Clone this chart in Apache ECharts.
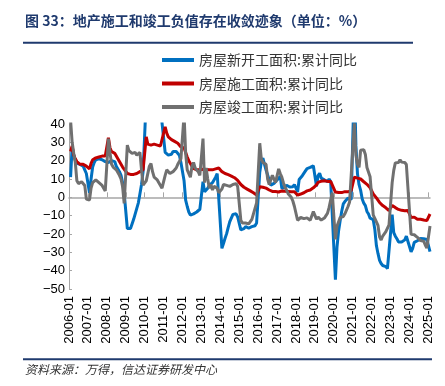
<!DOCTYPE html>
<html><head><meta charset="utf-8">
<script src="https://cdn.jsdelivr.net/npm/echarts@6/dist/echarts.min.js"></script>
<style>html,body{margin:0;padding:0;background:#fff}#c{width:445px;height:386px}</style>
</head><body><div id="c"></div>
<script>
// monthly categories 2006-01 .. 2025-02 (January values are not published -> null)
const categories = [];
for (let y = 2006; y <= 2025; y++) {
  for (let m = 1; m <= 12; m++) {
    if (y === 2025 && m > 2) break;
    categories.push(y + '-' + String(m).padStart(2, '0'));
  }
}
const yTicks = { min: -50, max: 40, step: 10 };
const seriesNames = ['房屋新开工面积:累计同比', '房屋施工面积:累计同比', '房屋竣工面积:累计同比'];

const newStarts = [
  null, 11, 27.5, 23, 20, 18.5, 18.5, 18, 17.5, 17, 15, 13,
  null, 2.5, 10, 16.5, 19, 20.5, 21, 21, 21, 20.5, 20, 19.5,
  null, 19, 19.5, 20, 19, 19.5, 17, 16, 14, 12, 8, 2.3,
  null, -17, -17.5, -17, -14.5, -12, -9, -6, -3, 2, 7, 14,
  null, 54, 60, 66, 67, 68, 71, 70, 65, 57, 50, 40.7,
  null, 24.5, 23.5, 23, 23.5, 23.5, 25, 26, 25, 24, 23, 19,
  null, 9, -1.5, -5, -8, -9.7, -9.5, -9, -8.5, -8, -7, -6.5,
  null, 8.5, 3, 4, 5, 6.5, 6.7, 8, 9.5, 11, 13, 13.5,
  null, -27.8, -25.2, -22.3, -19.8, -16.4, -13.3, -12.4, -9.3, -8.7, -9.0, -10.7,
  null, -17.7, -18.4, -17.1, -16.0, -15.8, -16.8, -17.4, -16, -15, -15.5, -14.0,
  null, 13.7, 19.2, 21.4, 18.0, 14.9, 12.2, 12.6, 6.6, 7.5, 7.6, 8.1,
  null, 10.4, 11.6, 4.9, 5.7, 5.5, 6.6, 7.2, 5.6, 5.6, 5.8, 7.0,
  null, 2.9, 9.7, 10.0, 11.8, 11.8, 14.4, 15.7, 16.4, 16.3, 16.8, 17.2,
  null, 6.0, 11.9, 13.1, 10.5, 10.1, 9.5, 8.9, 8.6, 10.0, 8.6, 8.5,
  null, -44.9, -27.2, -18.4, -12.8, -7.6, -3.6, -2.3, -1.4, -0.4, -0.7, -1.2,
  null, 64.3, 28.2, 12.8, 6.9, 3.8, -0.9, -3.2, -4.5, -7.7, -9.1, -11.4,
  null, -12.2, -17.5, -26.3, -30.6, -34.4, -36.1, -37.2, -38.0, -37.8, -38.9, -39.4,
  null, -9.4, -19.2, -21.2, -22.6, -24.3, -24.5, -24.4, -23.4, -23.2, -21.2, -20.4,
  null, -29.7, -27.8, -24.6, -24.2, -23.7, -23.2, -22.5, -22.2, -22.6, -23.0, -23.0,
  null, -29.6
];

const underConstruction = [
  null, 25, 28, 23, 21, 19.5, 18.5, 18, 18, 18, 17.5, 17,
  null, 15.5, 18.5, 20.5, 21, 21.5, 21.5, 22, 22, 22.5, 22.5, 22.5,
  null, 32.5, 27, 25, 24.5, 24, 22.5, 21, 19.5, 18, 16.5, 16,
  null, 13, 12.5, 12.5, 12.5, 12.5, 12.5, 13, 13.5, 14, 14.5, 15,
  null, 33, 29, 28.5, 28.5, 29, 29, 28.5, 28.5, 28.5, 28, 28,
  null, 38.5, 35, 33, 32, 31.5, 31, 30.5, 30, 29.5, 29, 27.5,
  null, 27, 24.5, 22, 20, 18.5, 17, 15.8, 15.5, 15, 15, 15,
  null, 15.3, 15.5, 15.2, 15, 15, 15, 15, 15.3, 15.5, 15.8, 16,
  null, 14, 13.6, 13, 12.5, 12.4, 12, 11.6, 11.4, 10.7, 9.9, 9.2,
  null, 7, 6, 5.5, 5, 4.5, 4, 3.5, 2.6, 2.5, 2, 1.3,
  null, 5.8, 6, 5.5, 5.5, 5, 4.5, 4, 3.5, 3.2, 3.2, 3.2,
  null, 2.9, 3, 3.5, 3.5, 3.3, 3.3, 3.2, 3.2, 3.0, 2.9, 3.0,
  null, 1.2, 1.6, 1.8, 2.2, 2.5, 2.9, 3.5, 3.8, 4.0, 4.7, 5.2,
  null, 6.8, 8.2, 8.8, 8.8, 8.8, 9.0, 8.8, 8.7, 9.0, 8.7, 8.7,
  null, 2.9, 2.5, 2.6, 2.6, 2.6, 2.5, 3.1, 3.1, 3.0, 3.0, 3.7,
  null, 11.0, 11.2, 10.5, 10.1, 10.0, 9.0, 8.5, 7.9, 7.1, 6.5, 5.2,
  null, 1.8, 1.1, -0.3, -1.0, -2.8, -3.7, -4.5, -5.3, -5.7, -6.5, -7.2,
  null, -4.4, -5.2, -5.6, -6.2, -6.6, -6.8, -7.1, -7.1, -7.3, -7.2, -7.2,
  null, -11.0, -11.1, -10.8, -11.6, -12.0, -12.1, -12.0, -12.2, -12.4, -12.7, -12.7,
  null, -9.1
];

const completions = [
  null, 42, 30, 24, 19, 9, 7.5, 8, 8.5, 8, 6.5, -1,
  null, -1.5, 5, 8, 9, 9.5, 9, 8, 7, 6.5, 5, 3.5,
  null, 32, 24.5, 18, 16.5, 16, 15, 13.5, 12, 10, 5.8, -3.3,
  null, 28.5, 25.5, 25, 24, 23, 24.5, 23, 22.7, 24.5, 15, 6.7,
  null, 9, 10, 17, 18.5, 14, 11, 12, 9.5, 8, 9, 5,
  null, 12, 15, 14, 13, 13.5, 14, 14, 16, 18, 19, 21,
  null, 45, 24, 15, 15, 11, 17, 19, 16, 17, 14, 12,
  null, 32, 8, 16, 10, 5, 7, 4, 6, 5.5, 5, 2.5,
  null, 4.5, 7, 6.5, 6.5, 5.5, 6, 6.5, 7, 7, 7.5, 5.9,
  null, -12.5, -14, -15, -14, -13.5, -14.5, -13.5, -12, -9, -6, -3,
  null, 29.5, 21, 19, 18.5, 18, 10, 7, 8, 12, 10, 8,
  null, 15.5, 13, 11, 8, 5.5, 4, 2, 1, 0, -2, -5,
  null, -12.5, -12, -11, -11.5, -11.6, -11.6, -11.2, -11.4, -12.5, -12.3, -7.8,
  null, -11.9, -10.8, -10.3, -12.4, -12.7, -11.3, -10.0, -8.6, -5.5, -4.5, 2.6,
  null, -22.9, -15.8, -16.4, -11.0, -10.5, -10.5, -9, -8, -5, -2.5, -1.5,
  null, 40.4, 22.9, 17.9, 16.4, 25.7, 25.7, 26.0, 23.4, 16.3, 16.2, 11.2,
  null, -9.7, -11.5, -11.9, -15.3, -21.5, -23.3, -21.1, -19.9, -18.7, -19.0, -15.0,
  null, 8.0, 14.7, 18.8, 19.6, 19.0, 20.5, 19.2, 19.8, 19.0, 17.9, 17.0,
  null, -20.2, -20.7, -20.4, -19.8, -21.8, -21.8, -23.6, -24.4, -23.9, -26.0, -27.7,
  null, -15.6
];

const colors = ['#0070C0', '#C00000', '#707070'];
const values = [newStarts, underConstruction, completions];

const chart = echarts.init(document.getElementById('c'), null, { renderer: 'canvas' });
chart.setOption({
  animation: false,
  backgroundColor: '#fff',
  grid: { left: 69, right: 15, top: 124, bottom: 97, containLabel: false },
  legend: {
    orient: 'vertical', left: 157, top: 48,
    itemWidth: 32, itemHeight: 4, itemGap: 9.5, icon: 'rect',
    textStyle: { fontSize: 14, color: '#333', fontFamily: 'Noto Sans CJK SC', lineHeight: 14 },
    data: seriesNames
  },
  xAxis: [
    {
      type: 'category', data: categories, boundaryGap: false, position: 'bottom',
      axisLine: { show: false, onZero: false }, axisTick: { show: false },
      axisLabel: { interval: 11, rotate: 90, fontSize: 13, color: '#000', margin: 7, fontFamily: 'Liberation Sans' },
      splitLine: { show: false }
    },
    {
      type: 'category', data: categories, boundaryGap: false, position: 'bottom',
      axisLine: { show: true, onZero: true, lineStyle: { color: '#a6a6a6', width: 1.5 } },
      axisTick: { show: true, inside: true, length: 5, interval: 11, lineStyle: { color: '#a6a6a6' } },
      axisLabel: { show: false }, splitLine: { show: false }
    }
  ],
  yAxis: {
    type: 'value', min: yTicks.min, max: yTicks.max, interval: yTicks.step,
    axisLine: { show: true, lineStyle: { color: '#a6a6a6', width: 1 } },
    axisTick: { show: true, inside: true, length: 3, lineStyle: { color: '#a6a6a6' } },
    axisLabel: { fontSize: 13, color: '#000', margin: 4, fontFamily: 'Liberation Sans',
      formatter: v => String(v).replace('-', '\u2212') },
    splitLine: { show: false }
  },
  series: seriesNames.map((n, k) => ({
    name: n, type: 'line', xAxisIndex: 0, data: values[k],
    symbol: 'none', connectNulls: true, clip: true,
    lineStyle: { color: colors[k], width: 3 }, itemStyle: { color: colors[k] }
  })),
  graphic: [
    { type: 'text', left: 25, top: 14, style: { text: '图 33：地产施工和竣工负值存在收敛迹象（单位：%）', fontSize: 14, fontWeight: 'bold', fill: '#1f3a6e', fontFamily: 'Noto Sans CJK SC' } },
    { type: 'line', shape: { x1: 23, y1: 42.7, x2: 413, y2: 42.7 }, style: { stroke: '#1f3a6e', lineWidth: 2 } },
    { type: 'line', shape: { x1: 23, y1: 359.3, x2: 432, y2: 359.3 }, style: { stroke: '#1f3a6e', lineWidth: 2 } },
    { type: 'text', left: 25, top: 363, style: { text: '资料来源：万得，信达证券研发中心', fontSize: 12, fontStyle: 'italic', fill: '#333', fontFamily: 'Noto Sans CJK SC' } }
  ]
});
</script>
</body></html>
